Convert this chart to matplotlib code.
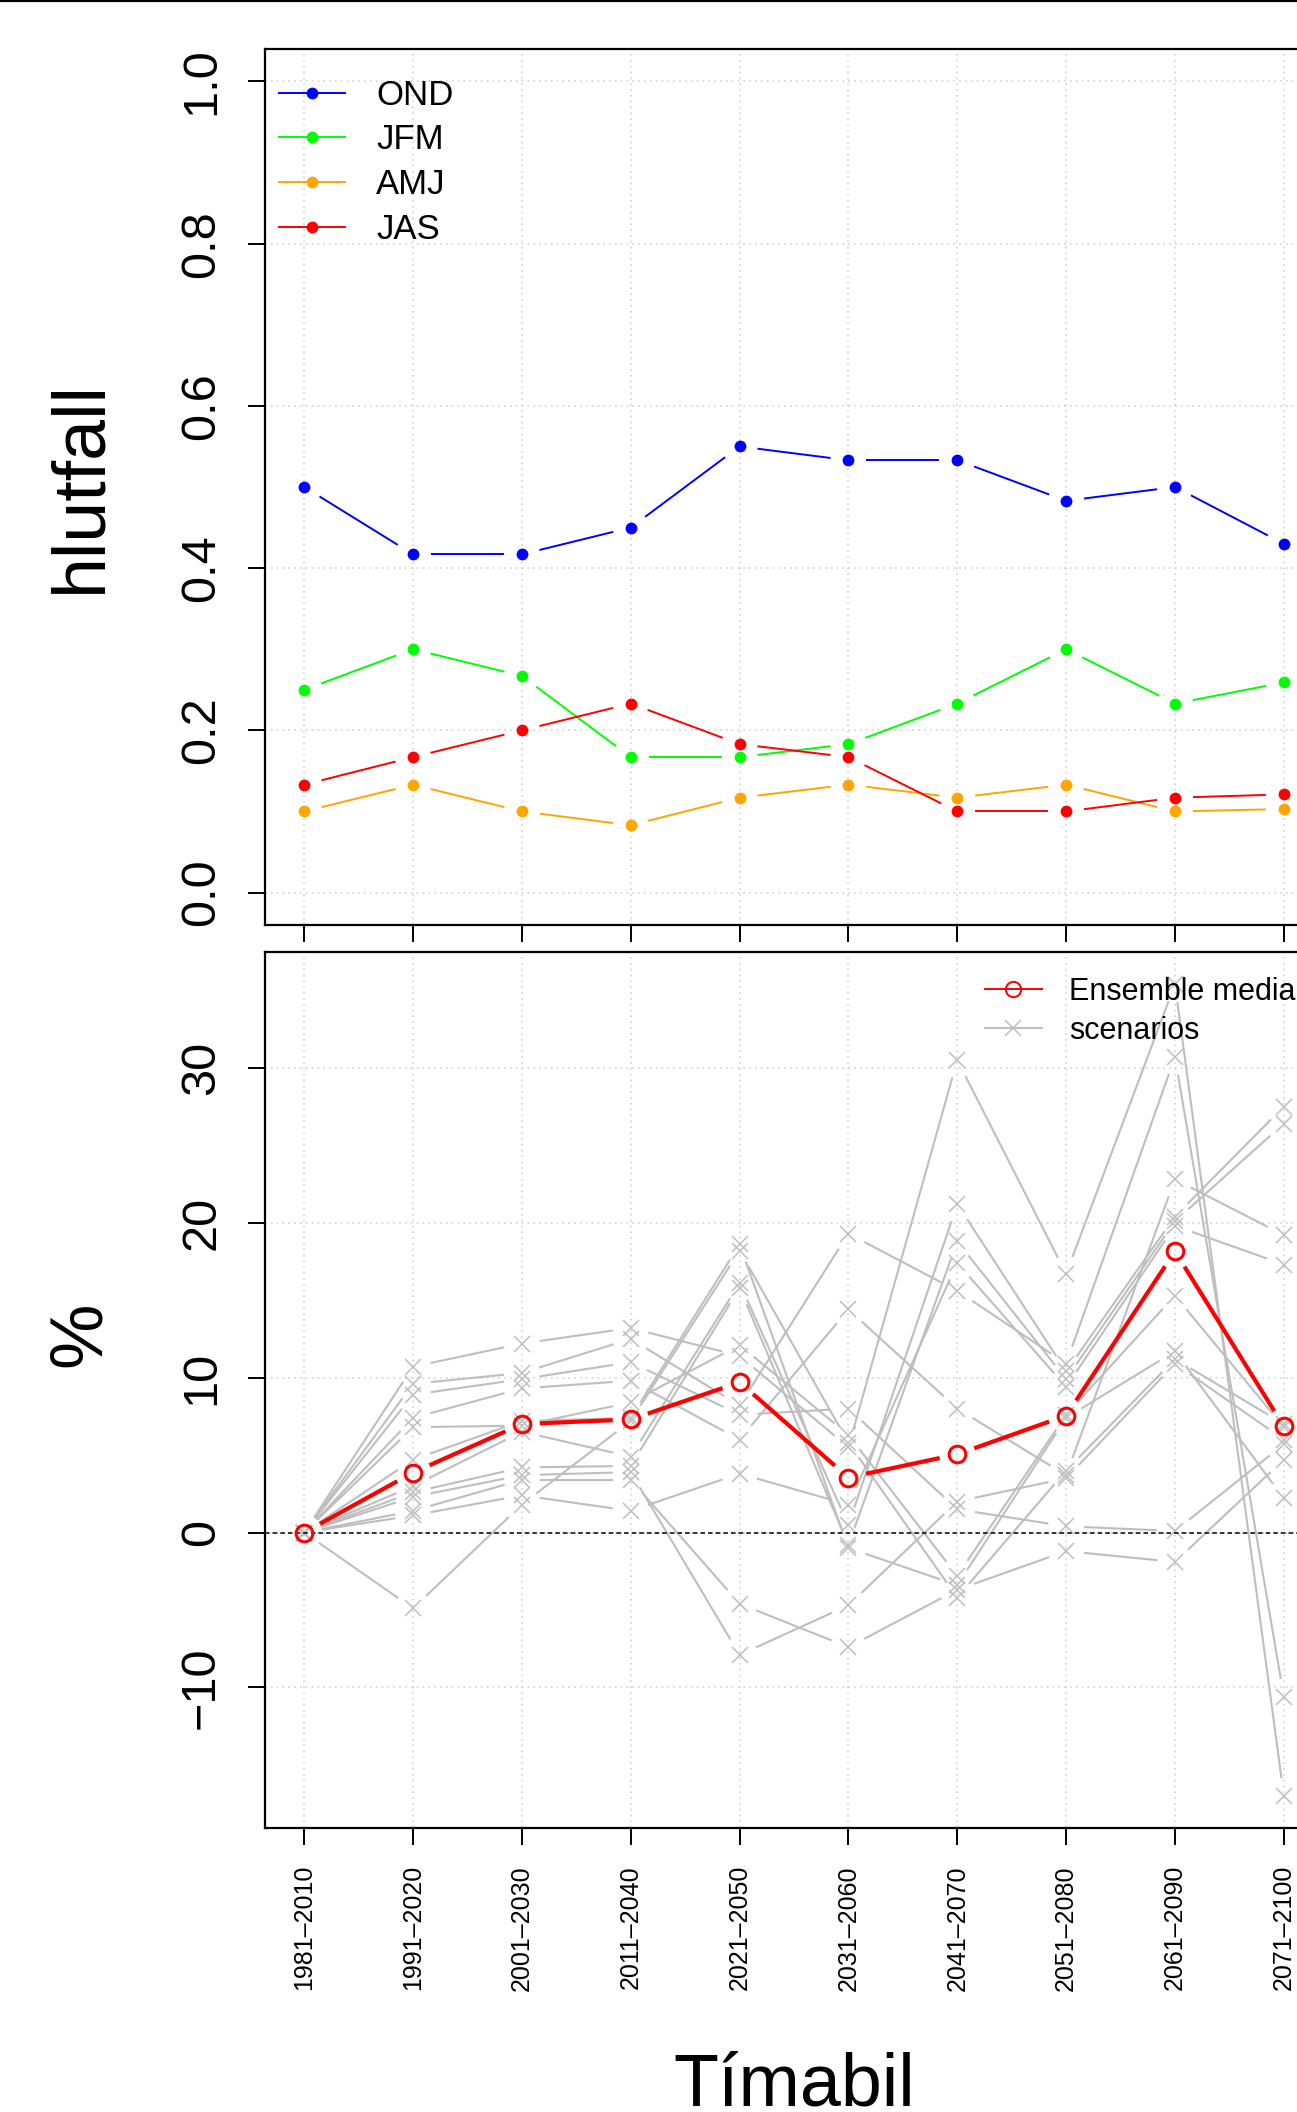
import numpy as np
import matplotlib
matplotlib.use("Agg")
import matplotlib.pyplot as plt
from matplotlib.collections import LineCollection
from matplotlib.lines import Line2D

plt.rcParams['font.family'] = ['Liberation Sans', 'DejaVu Sans']

periods = ['1981–2010', '1991–2020', '2001–2030', '2011–2040', '2021–2050',
           '2031–2060', '2041–2070', '2051–2080', '2061–2090', '2071–2100']

# top panel: share per season
seasons = ['OND', 'JFM', 'AMJ', 'JAS']
season_colors = ['#0000FF', '#00FF00', '#FFA500', '#FF0000']
ond = [0.500, 0.417, 0.417, 0.450, 0.550, 0.533, 0.533, 0.483, 0.500, 0.430]
jfm = [0.250, 0.300, 0.267, 0.167, 0.167, 0.183, 0.233, 0.300, 0.233, 0.259]
amj = [0.100, 0.133, 0.100, 0.083, 0.117, 0.133, 0.117, 0.133, 0.100, 0.103]
jas = [0.133, 0.167, 0.200, 0.233, 0.183, 0.167, 0.100, 0.100, 0.117, 0.121]

# bottom panel: change in % per scenario and ensemble median
scenarios = [
    [0, 10.7, 12.2, 13.2, 11.4, 5.5, 30.5, 16.7, 35.4, -17.0],
    [0, 8.9, 9.9, 11.0, 7.6, 8.0, 1.5, 0.4, 0.1, 5.7],
    [0, 9.6, 10.3, 12.5, 8.2, 19.3, 15.6, 10.9, 30.7, -10.6],
    [0, 7.4, 9.3, 9.8, 6.0, 14.4, 8.0, 3.7, 22.8, 19.2],
    [0, 6.8, 6.9, 8.4, 12.1, 6.3, -2.8, 7.6, 15.3, 6.8],
    [0, 4.7, 7.2, 7.4, 18.6, -1.0, -3.4, 7.4, 11.7, 2.2],
    [0, -4.9, 1.8, 7.2, 18.2, 5.8, -4.2, 4.0, 11.2, 7.0],
    [0, 3.0, 6.5, 4.9, 16.1, 0.5, 21.2, 10.4, 20.4, 27.5],
    [0, 2.6, 4.2, 4.3, 15.8, -0.8, 18.8, 9.9, 20.1, 26.4],
    [0, 1.1, 2.4, 1.4, 3.8, 1.8, 17.4, 9.4, 19.8, 17.3],
    [0, 2.3, 3.7, 3.9, -7.9, -4.7, 2.0, 3.5, 10.9, 6.0],
    [0, 1.4, 3.4, 3.4, -4.6, -7.4, -3.7, -1.2, -1.9, 4.7],
]
median = [0, 3.87, 7.0, 7.3, 9.7, 3.55, 5.05, 7.55, 18.15, 6.85]

W, H = 1297, 2112
fig = plt.figure(figsize=(W / 100, H / 100), dpi=100)


def px_box(left, top, right, bottom):
    return [left / W, 1 - bottom / H, (right - left) / W, (bottom - top) / H]


def gapped(ax, x, y, gap, **kw):
    # R type="b": segments stop short of the points
    pts = ax.transData.transform(np.column_stack([x, y]))
    segs = []
    for p0, p1 in zip(pts[:-1], pts[1:]):
        d = p1 - p0
        L = np.hypot(*d)
        if L <= 2 * gap:
            continue
        u = d / L
        segs.append(np.array([p0 + u * gap, p1 - u * gap]))
    inv = ax.transData.inverted()
    ax.add_collection(LineCollection([inv.transform(s) for s in segs], **kw))


def style_axes(ax):
    for s in ax.spines.values():
        s.set_linewidth(1.6)
    ax.tick_params(axis='both', direction='out', length=12.5, width=1.4, color='black')
    ax.tick_params(axis='y', pad=17)
    ax.grid(True, color='#D3D3D3', linestyle=(0, (1, 2.5)), linewidth=1.2)
    ax.set_axisbelow(True)


x = np.arange(1, len(periods) + 1)
xpad = 0.04 * (x[-1] - x[0])

# ---- top panel
ax1 = fig.add_axes(px_box(265, 49, 1323, 925))
ax1.set_xlim(x[0] - xpad, x[-1] + xpad)
ax1.set_ylim(-0.04, 1.04)
style_axes(ax1)
ax1.set_xticks(x)
ax1.set_xticklabels([])
yt1 = [0.0, 0.2, 0.4, 0.6, 0.8, 1.0]
ax1.set_yticks(yt1)
ax1.set_yticklabels([f"{v:.1f}" for v in yt1], rotation=90, va='center',
                    family=['Liberation Sans Narrow', 'Liberation Sans'], fontsize=35)

handles = []
for vals, col, name in zip([ond, jfm, amj, jas], season_colors, seasons):
    gapped(ax1, x, vals, 18, colors=col, linewidths=1.4)
    ax1.plot(x, vals, 'o', color=col, markersize=8.5, markeredgewidth=0)
    handles.append(Line2D([], [], color=col, lw=1.4, marker='o', markersize=8.5,
                          markeredgewidth=0, label=name))
ax1.legend(handles=handles, loc='upper left', bbox_to_anchor=(0.0, 0.982),
           frameon=False, fontsize=25, handlelength=1.9, handletextpad=0.9,
           labelspacing=0.34, borderaxespad=0.2, borderpad=0.2)

# ---- bottom panel
allv = np.array(scenarios + [median])
lo, hi = allv.min(), allv.max()
ypad = 0.04 * (hi - lo)
ax2 = fig.add_axes(px_box(265, 951.7, 1323, 1828.3))
ax2.set_xlim(x[0] - xpad, x[-1] + xpad)
ax2.set_ylim(lo - ypad, hi + ypad)
style_axes(ax2)
ax2.set_xticks(x)
ax2.set_xticklabels(periods, rotation=90, fontsize=18)
ax2.tick_params(axis='x', pad=14)
yt2 = [-10, 0, 10, 20, 30]
ax2.set_yticks(yt2)
ax2.set_yticklabels([str(v).replace('-', '\u2212') for v in yt2], rotation=90, va='center',
                    family=['Liberation Sans Narrow', 'Liberation Sans'], fontsize=35)

for s in scenarios:
    gapped(ax2, x, s, 18, colors='#BEBEBE', linewidths=1.5)
    ax2.plot(x, s, 'x', color='#BEBEBE', markersize=11.5, markeredgewidth=1.1)
ax2.axhline(0, color='black', lw=1.1, linestyle=(0, (3, 2)))
gapped(ax2, x, median, 18, colors='#FF0000', linewidths=3.0)
ax2.plot(x, median, 'o', markerfacecolor='none', markeredgecolor='#FF0000',
         markersize=12, markeredgewidth=2.2)

h2 = [Line2D([], [], color='#FF0000', lw=1.4, marker='o', markerfacecolor='none',
             markersize=11, markeredgewidth=1.4, label='Ensemble median'),
      Line2D([], [], color='#BEBEBE', lw=1.4, marker='x', markersize=11,
             markeredgewidth=1.1, label='scenarios')]
ax2.legend(handles=h2, loc='upper left', bbox_to_anchor=(0.669, 0.985),
           frameon=False, fontsize=22, handlelength=1.85, handletextpad=0.9,
           labelspacing=0.28, borderaxespad=0.2, borderpad=0.2)

# ---- axis titles
fig.text(81 / W, 1 - 487 / H, 'hlutfall', rotation=90, ha='center', va='center', fontsize=53)
fig.text(80 / W, 1 - 1334 / H, '%', rotation=90, ha='center', va='center', fontsize=53)
fig.text(794 / W, 1 - 2106 / H, 'Tímabil', ha='center', va='baseline', fontsize=53)

# frame line at the very top of the image
fig.add_artist(Line2D([0, 1], [1, 1], transform=fig.transFigure, color='black', lw=3))

fig.savefig('out.png', dpi=100)
